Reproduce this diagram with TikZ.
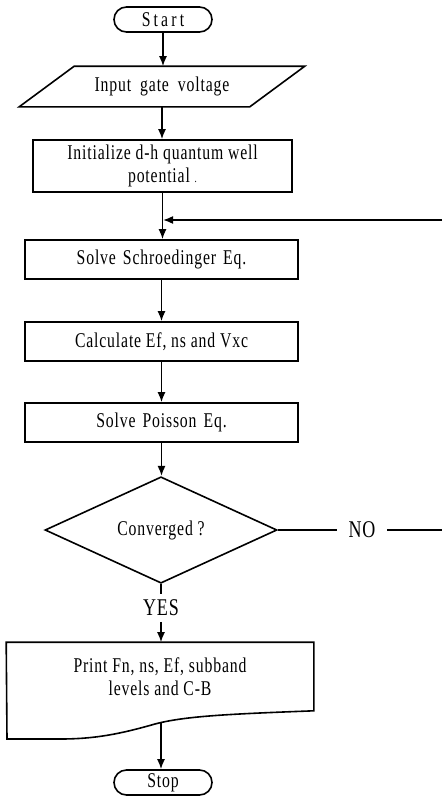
\documentclass[tikz,border=0pt]{standalone}
\usepackage{fontspec}
\setmainfont[FakeStretch=0.75,LetterSpace=4]{Liberation Serif}
\usetikzlibrary{arrows.meta,shapes.geometric,calc}
\begin{document}
\begin{tikzpicture}[x=1pt,y=-1pt,line width=1.6pt,
  txt/.style={font=\fontsize{21}{23}\selectfont},
  big/.style={font=\fontsize{24}{26}\selectfont},
  term/.style={txt,draw,rounded corners=12.5pt,minimum width=98pt,minimum height=25pt,inner sep=0pt},
  proc/.style={txt,draw,minimum width=273pt,minimum height=39pt,inner sep=0pt},
  arr/.style={-{Latex[length=10pt,width=8pt]}}]
\fill[white] (0,0) rectangle (442,803);
\useasboundingbox (0,0) rectangle (442,803);

\node[term] (start) at (163,19.5) {\addfontfeature{LetterSpace=15}Start};
\node[txt,minimum width=229pt,minimum height=39pt,inner sep=0pt] (input) at (162,86.5) {Input\hspace{9pt}gate\hspace{9pt}voltage};
\draw ($(input.north west)+(27.5,0)$) -- ($(input.north east)+(27.5,0)$) -- ($(input.south east)+(-27.5,0)$) -- ($(input.south west)+(-27.5,0)$) -- cycle;

\node[proc,minimum width=259pt,minimum height=52pt,align=center] (init) at (162.5,166) {Initialize d-h quantum well\\potential {\fontsize{12}{12}\selectfont.}};
\node[proc] (schro) at (161.5,259.5) {Solve\hspace{7pt}Schroedinger\hspace{7pt}Eq.};
\node[proc] (calc) at (161.5,341.5) {Calculate Ef, ns and Vxc};
\node[proc] (pois) at (161.5,422.5) {Solve\hspace{7pt}Poisson\hspace{7pt}Eq.};
\node[txt,draw,diamond,minimum width=232pt,minimum height=94pt,inner sep=0pt] (conv) at (161,530) {Converged ?};
\node[big,inner xsep=11pt,inner ysep=2pt] (no) at (362,530) {NO};
\coordinate (nr) at (442,530);
\node[big,inner xsep=2pt,inner ysep=5pt] (yes) at (161,608) {YES};
\node[txt,minimum width=306pt,minimum height=67pt,inner sep=0pt,align=center] (print) at (160,676.5) {Print Fn, ns, Ef, subband\\levels and C-B};
\draw (print.north west) -- (print.north east) -- (print.south east)
  .. controls (230,714) and (185,716) .. (155,724)
  .. controls (120,734) and (95,739) .. (60,739) -- (7,739) -- cycle;
\coordinate (pb) at (161,722.5);
\node[term] (stop) at (163,782.5) {Stop};

\coordinate (j) at (163,220);
\coordinate (jr) at (442,220);

\draw[arr] (start.south) -- (start.south |- input.north);
\draw[arr] (input.south) -- (input.south |- init.north);
\draw[arr] (init.south) -- (init.south |- schro.north);
\draw[arr] (jr) -- (j);
\draw[arr] (schro.south) -- (calc.north);
\draw[arr] (calc.south) -- (pois.north);
\draw[arr] (pois.south) -- (pois.south |- conv.north);
\draw (conv.east) -- (no.west);
\draw (no.east) -- (nr);
\draw (conv.south) -- (yes.north);
\draw[arr] (yes.south) -- (yes.south |- print.north);
\draw[arr] (pb) -- (pb |- stop.north);
\end{tikzpicture}
\end{document}
